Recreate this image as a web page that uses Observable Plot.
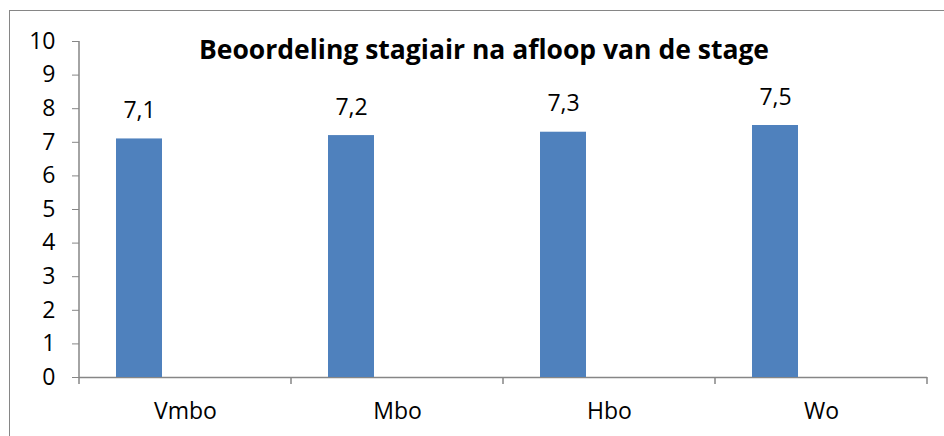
<!DOCTYPE html>
<html><head><meta charset="utf-8">
<script src="https://cdn.jsdelivr.net/npm/d3@7"></script>
<script src="https://cdn.jsdelivr.net/npm/@observablehq/plot@0.6"></script>
<style>
body{margin:0;background:#fff;}
#wrap{position:relative;width:944px;height:436px;overflow:hidden;font-family:"Open Sans",sans-serif;background:#fff;}
#frame{position:absolute;left:9px;top:10px;width:1000px;height:1000px;border-left:1px solid #868686;border-top:1px solid #868686;}
#title{position:absolute;left:484px;top:36px;transform:translateX(-50%);white-space:nowrap;font-weight:bold;font-size:26.5px;line-height:1;color:#000;}
#chart{position:absolute;left:0;top:0;}
</style>
</head><body>
<div id="wrap"><div id="frame"></div><div id="chart"></div><div id="title"></div></div>
<script>
const titleText = "Beoordeling stagiair na afloop van de stage";
const categories = ["Vmbo", "Mbo", "Hbo", "Wo"];
const values = [7.1, 7.2, 7.3, 7.5];
const yTicks = [0, 1, 2, 3, 4, 5, 6, 7, 8, 9, 10];

const data = categories.map((c, i) => ({category: c, value: values[i]}));
const fmt = v => v.toFixed(1).replace(".", ",");
const axisGray = "#868686";

const plot = Plot.plot({
  width: 944, height: 436,
  marginLeft: 77, marginRight: 16, marginTop: 41, marginBottom: 59,
  style: {fontFamily: "'Open Sans', sans-serif", fontSize: "23px", color: "#000", background: "transparent"},
  fx: {domain: categories, padding: 0, label: null, tickSize: 0, tickPadding: 25},
  x: {axis: null, domain: ["v"], paddingInner: 0, paddingOuter: 1.8, align: 0.222},
  y: {domain: [0, 10], ticks: yTicks, label: null, tickSize: 7, tickPadding: 17},
  marks: [
    Plot.ruleY([0], {stroke: axisGray, strokeWidth: 1.5}),
    Plot.barY(data, {fx: "category", x: () => "v", y: "value", fill: "#4F81BD"}),
    Plot.text(data, {fx: "category", x: () => "v", y: "value", text: d => fmt(d.value), dy: -21, lineAnchor: "bottom", fontSize: 23})
  ]
});

document.getElementById("chart").appendChild(plot);
document.getElementById("title").textContent = titleText;

const svg = d3.select(plot);
const fx = plot.scale("fx");
const y = plot.scale("y");
const y0 = y.apply(0), y10 = y.apply(10);
svg.selectAll('[aria-label="y-axis tick"]').attr("stroke", axisGray);
svg.selectAll('[aria-label="y-axis tick"] path').attr("stroke", axisGray);
const g = svg.append("g").attr("stroke", axisGray).attr("stroke-width", 1.5);
const x0 = fx.apply(categories[0]);
g.append("line").attr("x1", x0).attr("x2", x0).attr("y1", y10).attr("y2", y0 + 7);
const bounds = categories.map(c => fx.apply(c) + fx.bandwidth);
bounds.forEach(b => g.append("line").attr("x1", b).attr("x2", b).attr("y1", y0).attr("y2", y0 + 7));
</script>
</body></html>
